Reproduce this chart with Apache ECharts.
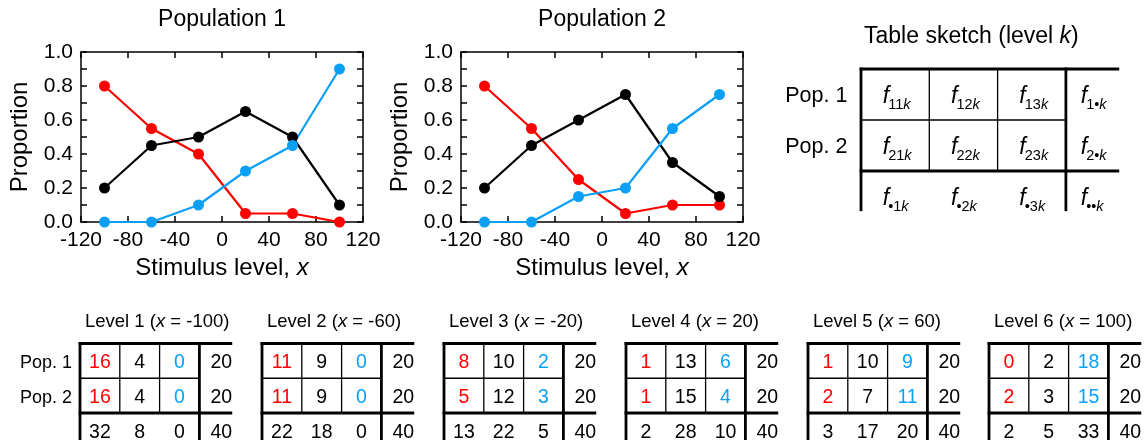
<!DOCTYPE html>
<html>
<head>
<meta charset="utf-8">
<script src="https://cdn.jsdelivr.net/npm/echarts@6/dist/echarts.min.js"></script>
<style>
  html, body { margin: 0; padding: 0; background: #ffffff; }
  #chart { width: 1147px; height: 440px; }
</style>
</head>
<body>
<div id="chart"></div>
<script>
// Stimulus levels and response counts (20 observers per population and level)
const stimulusLevels = [-100, -60, -20, 20, 60, 100];
const pop1Red   = [16, 11, 8, 1, 1, 0];
const pop1Black = [4, 9, 10, 13, 10, 2];
const pop1Blue  = [0, 0, 2, 6, 9, 18];
const pop2Red   = [16, 11, 5, 1, 2, 2];
const pop2Black = [4, 9, 12, 15, 7, 3];
const pop2Blue  = [0, 0, 3, 4, 11, 15];
const groupSize = 20;

// Axis tick labels
const xTickLabels = ['-120', '-80', '-40', '0', '40', '80', '120'];
const yTickLabels = ['0.0', '0.2', '0.4', '0.6', '0.8', '1.0'];

// Text
const plotTitles = ['Population 1', 'Population 2'];
const rowLabels = ['Pop. 1', 'Pop. 2'];
const sketchSubscripts = [
  ['11', '12', '13', '1\u2022'],
  ['21', '22', '23', '2\u2022'],
  ['\u20221', '\u20222', '\u20223', '\u2022\u2022']
];

const FONT = '"Liberation Sans", Arial, Helvetica, sans-serif';
const RED = '#ff0000';
const BLACK = '#000000';
const BLUE = '#0ba0f5';
const cellColors = [RED, BLACK, BLUE];

const grid = [];
const xAxis = [];
const yAxis = [];
const series = [];
const graphic = [];

// ---------- proportion plots ----------
const plotBoxes = [
  { left: 81, top: 52, width: 282, height: 170 },
  { left: 461, top: 52, width: 282, height: 170 }
];
const plotCounts = [
  [pop1Red, pop1Black, pop1Blue],
  [pop2Red, pop2Black, pop2Blue]
];

const frameLine = { show: true, onZero: false, lineStyle: { color: '#000', width: 1.5 } };
const frameTick = { show: true, inside: true, length: 6, lineStyle: { color: '#000', width: 1.5 } };
const tickFont = { color: '#000', fontSize: 21, fontFamily: FONT };
const nameFont = {
  color: '#000', fontSize: 24, fontFamily: FONT,
  rich: { i: { color: '#000', fontSize: 24, fontFamily: FONT, fontStyle: 'italic' } }
};

plotBoxes.forEach((box, p) => {
  const gi = grid.length;
  grid.push(Object.assign({ containLabel: false, outerBoundsMode: 'none' }, box));
  const xi = xAxis.length;
  const yi = yAxis.length;
  xAxis.push({
    gridIndex: gi, type: 'value', position: 'bottom', min: -120, max: 120, interval: 40,
    axisLine: frameLine, axisTick: frameTick, splitLine: { show: false },
    axisLabel: Object.assign({ margin: 8, formatter: v => xTickLabels[Math.round((v + 120) / 40)] }, tickFont),
    name: 'Stimulus level, {i|x}', nameLocation: 'middle', nameGap: 34, nameTextStyle: nameFont
  });
  xAxis.push({
    gridIndex: gi, type: 'value', position: 'top', min: -120, max: 120, interval: 40,
    axisLine: frameLine, axisTick: frameTick, splitLine: { show: false }, axisLabel: { show: false }
  });
  yAxis.push({
    gridIndex: gi, type: 'value', position: 'left', min: 0, max: 1, interval: 0.1,
    axisLine: frameLine, axisTick: frameTick, splitLine: { show: false },
    axisLabel: Object.assign({
      margin: 8,
      formatter: v => {
        const t = Math.round(v * 10);
        return t % 2 === 0 ? yTickLabels[t / 2] : '';
      }
    }, tickFont),
    name: 'Proportion', nameLocation: 'middle', nameGap: 49, nameRotate: 90, nameTextStyle: nameFont
  });
  yAxis.push({
    gridIndex: gi, type: 'value', position: 'right', min: 0, max: 1, interval: 0.1,
    axisLine: frameLine, axisTick: frameTick, splitLine: { show: false }, axisLabel: { show: false }
  });
  plotCounts[p].forEach((counts, c) => {
    series.push({
      type: 'line', xAxisIndex: xi, yAxisIndex: yi,
      data: stimulusLevels.map((x, k) => [x, counts[k] / groupSize]),
      symbol: 'circle', symbolSize: 11, showAllSymbol: true,
      lineStyle: { color: cellColors[c], width: 2.2 },
      itemStyle: { color: cellColors[c] },
      silent: true, animation: false
    });
  });
  graphic.push({
    type: 'text', x: box.left + box.width / 2, y: 20,
    style: { text: plotTitles[p], fill: '#000', fontSize: 23, fontFamily: FONT, align: 'center', verticalAlign: 'middle' }
  });
});

// ---------- contingency tables ----------
function addTable(box, colW, rowH, items, segments) {
  const gi = grid.length;
  grid.push({ left: box.left, top: box.top, width: 4 * colW, height: 3 * rowH, containLabel: false, outerBoundsMode: 'none' });
  const xi = xAxis.length;
  const yi = yAxis.length;
  xAxis.push({ gridIndex: gi, type: 'value', min: 0, max: 4, show: false });
  yAxis.push({ gridIndex: gi, type: 'value', min: 0, max: 3, inverse: true, show: false });
  series.push({
    type: 'custom', xAxisIndex: xi, yAxisIndex: yi, clip: false, silent: true, animation: false,
    data: segments,
    renderItem: (params, api) => {
      const a = api.coord([api.value(0), api.value(1)]);
      const b = api.coord([api.value(2), api.value(3)]);
      const w = api.value(4);
      return {
        type: 'line',
        shape: { x1: a[0], y1: a[1], x2: b[0], y2: b[1] },
        style: { stroke: '#000', lineWidth: w, lineCap: w > 2 ? 'square' : 'butt' }
      };
    }
  });
  series.push({
    type: 'custom', xAxisIndex: xi, yAxisIndex: yi, clip: false, silent: true, animation: false,
    data: items.map(it => [it.col, it.row]),
    renderItem: (params, api) => {
      const pt = api.coord([api.value(0), api.value(1)]);
      return items[params.dataIndex].draw(pt);
    }
  });
}

function tableSegments(rightEnd, bottom, thick, thin) {
  return [
    [0, 0, rightEnd, 0, thick],
    [0, 0, 0, bottom, thick],
    [3, 0, 3, bottom, thick],
    [0, 2, rightEnd, 2, thick],
    [0, 1, 3, 1, thin],
    [1, 0, 1, 2, thin],
    [2, 0, 2, 2, thin]
  ];
}

function plainText(col, row, text, opts) {
  return {
    col, row,
    draw: pt => ({
      type: 'text', x: pt[0] + (opts.dx || 0), y: pt[1] + (opts.dy || 0),
      style: Object.assign({
        text, fill: opts.color || '#000', fontSize: opts.size, fontFamily: FONT,
        align: opts.align || 'center', verticalAlign: 'middle'
      }, opts.rich ? { rich: opts.rich } : {})
    })
  };
}

const italicRich = size => ({ i: { fontStyle: 'italic', fontSize: size, fontFamily: FONT, fill: '#000', color: '#000' } });

// Small tables, one per stimulus level
const smallLefts = [80, 262, 444, 626, 808, 989];
const smallTop = 343.5;
const smallColW = 39.8;
const smallRowH = 34.75;
const numSize = 19.5;

stimulusLevels.forEach((x, k) => {
  const rows = [
    [pop1Red[k], pop1Black[k], pop1Blue[k]],
    [pop2Red[k], pop2Black[k], pop2Blue[k]]
  ];
  const items = [];
  items.push(plainText(0.125, -0.63, 'Level ' + (k + 1) + ' ({i|x} = ' + x + ')',
    { size: 18.5, align: 'left', rich: italicRich(18.5) }));
  rows.forEach((r, ri) => {
    r.forEach((v, ci) => items.push(plainText(ci + 0.5, ri + 0.5, String(v), { size: numSize, color: cellColors[ci], dy: 2 })));
    items.push(plainText(3.55, ri + 0.5, String(r[0] + r[1] + r[2]), { size: numSize, dy: 2 }));
    if (k === 0) items.push(plainText(-0.2, ri + 0.5, rowLabels[ri], { size: 18, align: 'right', dy: 2 }));
  });
  const colTotals = [0, 1, 2].map(ci => rows[0][ci] + rows[1][ci]);
  colTotals.forEach((v, ci) => items.push(plainText(ci + 0.5, 2.5, String(v), { size: numSize, dy: 2 })));
  items.push(plainText(3.55, 2.5, String(colTotals[0] + colTotals[1] + colTotals[2]), { size: numSize, dy: 2 }));
  addTable({ left: smallLefts[k], top: smallTop }, smallColW, smallRowH, items, tableSegments(3.79, 3, 2.8, 1.3));
});

// Sketch of the generic level-k table
const sketchColW = 68.3;
const sketchRowH = 51;
const sketchItems = [];
sketchItems.push(plainText(0.044, -0.63, 'Table sketch (level {i|k})', { size: 23, align: 'left', rich: italicRich(23) }));
rowLabels.forEach((lab, ri) => sketchItems.push(plainText(-0.2, ri + 0.5, lab, { size: 21.5, align: 'right', dy: 2 })));
sketchSubscripts.forEach((row, ri) => {
  row.forEach((sub, ci) => {
    const col = ci < 3 ? ci + 0.5 : 3.4;
    sketchItems.push({
      col, row: ri + 0.5,
      draw: pt => ({
        type: 'group',
        children: [
          {
            type: 'text', x: pt[0] - 12.5, y: pt[1] + 2,
            style: { text: 'f', fill: '#000', fontSize: 23, fontStyle: 'italic', fontFamily: FONT, align: 'left', verticalAlign: 'middle' }
          },
          {
            type: 'text', x: pt[0] - 7, y: pt[1] + 10,
            style: {
              text: '{n|' + sub + '}{i|k}', fill: '#000', fontSize: 14.5, fontFamily: FONT, align: 'left', verticalAlign: 'middle',
              rich: {
                n: { fontSize: 14.5, fontFamily: FONT, fill: '#000', color: '#000' },
                i: { fontSize: 14.5, fontFamily: FONT, fontStyle: 'italic', fill: '#000', color: '#000' }
              }
            }
          }
        ]
      })
    });
  });
});
addTable({ left: 861, top: 69 }, sketchColW, sketchRowH, sketchItems, tableSegments(3.76, 2.76, 2.8, 1.3));

const chart = echarts.init(document.getElementById('chart'), null, { renderer: 'canvas' });
chart.setOption({
  animation: false,
  backgroundColor: '#ffffff',
  grid, xAxis, yAxis, series, graphic
});
</script>
</body>
</html>
